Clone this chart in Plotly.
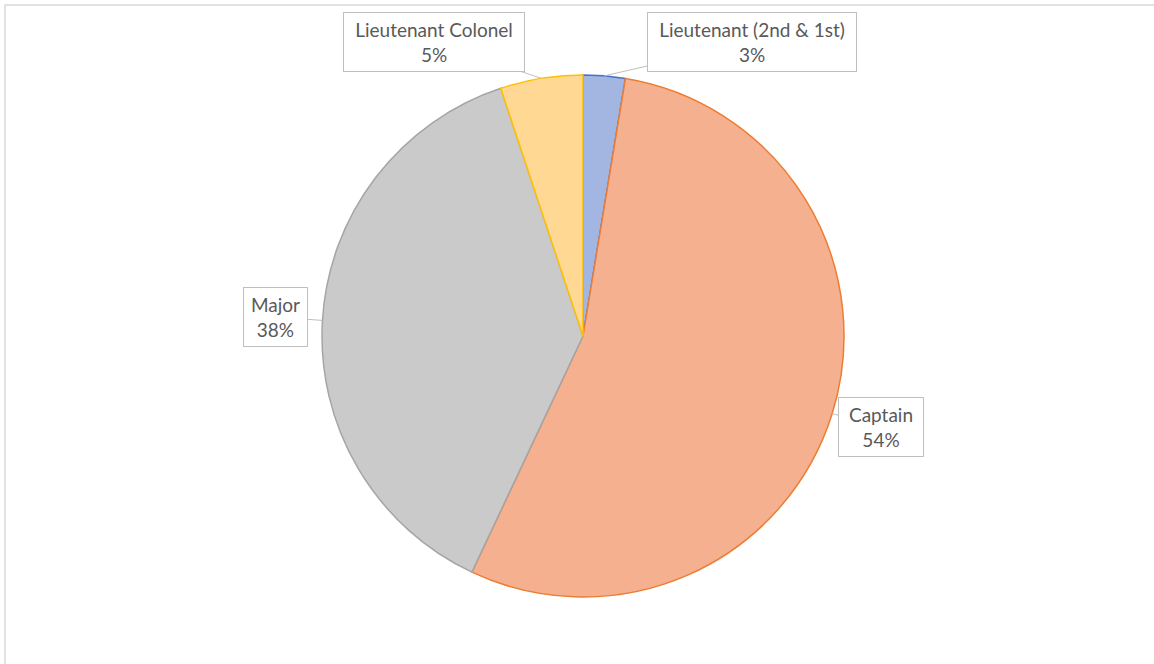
import math
import plotly.graph_objects as go

# Share of officers by rank (percent)
ranks = ["Lieutenant (2nd & 1st)", "Captain", "Major", "Lieutenant Colonel"]
shares = [2.6, 54.4, 37.9, 5.1]
fill_colors = ["#a3b5e1", "#f5b090", "#cacaca", "#ffd993"]
edge_colors = ["#4472c4", "#ed7d31", "#a5a5a5", "#ffc000"]

# Callout box centres (pixels from top-left of the page) and box sizes
box_centers = [(752, 42), (881, 427), (275, 317), (434, 42)]
box_sizes = [(198, 48), (74, 48), (53, 48), (170, 48)]

W, H = 1154, 664
CX, CY, R = 583, 336, 261  # pie centre and radius in pixels

fig = go.Figure()
fig.add_trace(go.Pie(
    labels=ranks,
    values=shares,
    sort=False,
    direction="clockwise",
    rotation=0,
    textinfo="none",
    hoverinfo="label+percent",
    marker=dict(colors=fill_colors, line=dict(color=edge_colors, width=1.5)),
    domain=dict(x=[(CX - R) / W, (CX + R) / W],
                y=[(H - CY - R) / H, (H - CY + R) / H]),
    showlegend=False,
))

# Callout labels pointing at the middle of each slice's outer edge
total = sum(shares)
cum = 0.0
annotations = []
for name, v, (bx, by), (bw, bh) in zip(ranks, shares, box_centers, box_sizes):
    mid = (cum + v / 2) / total * 2 * math.pi
    cum += v
    tx = CX + R * math.sin(mid)
    ty = CY - R * math.cos(mid)
    pct = round(v / total * 100)
    annotations.append(dict(
        x=tx / W, y=1 - ty / H, xref="paper", yref="paper",
        text=f"{name}<br>{pct}%",
        showarrow=True, arrowhead=0, arrowwidth=1, arrowcolor="#bfbfbf",
        ax=bx - tx, ay=by - ty,
        width=bw, height=bh, align="center",
        bordercolor="#bfbfbf", borderwidth=1, borderpad=5,
        bgcolor="#ffffff",
        font=dict(family="Lato", size=19, color="#595959"),
    ))

fig.update_layout(
    width=W, height=H,
    margin=dict(l=0, r=0, t=0, b=0),
    paper_bgcolor="#ffffff",
    plot_bgcolor="#ffffff",
    annotations=annotations,
    shapes=[dict(type="rect", xref="paper", yref="paper",
                 x0=5 / W, x1=1.02, y0=-0.02, y1=1 - 5 / H,
                 line=dict(color="#d9d9d9", width=1.5), layer="below")],
)

fig.write_html("out.html")
